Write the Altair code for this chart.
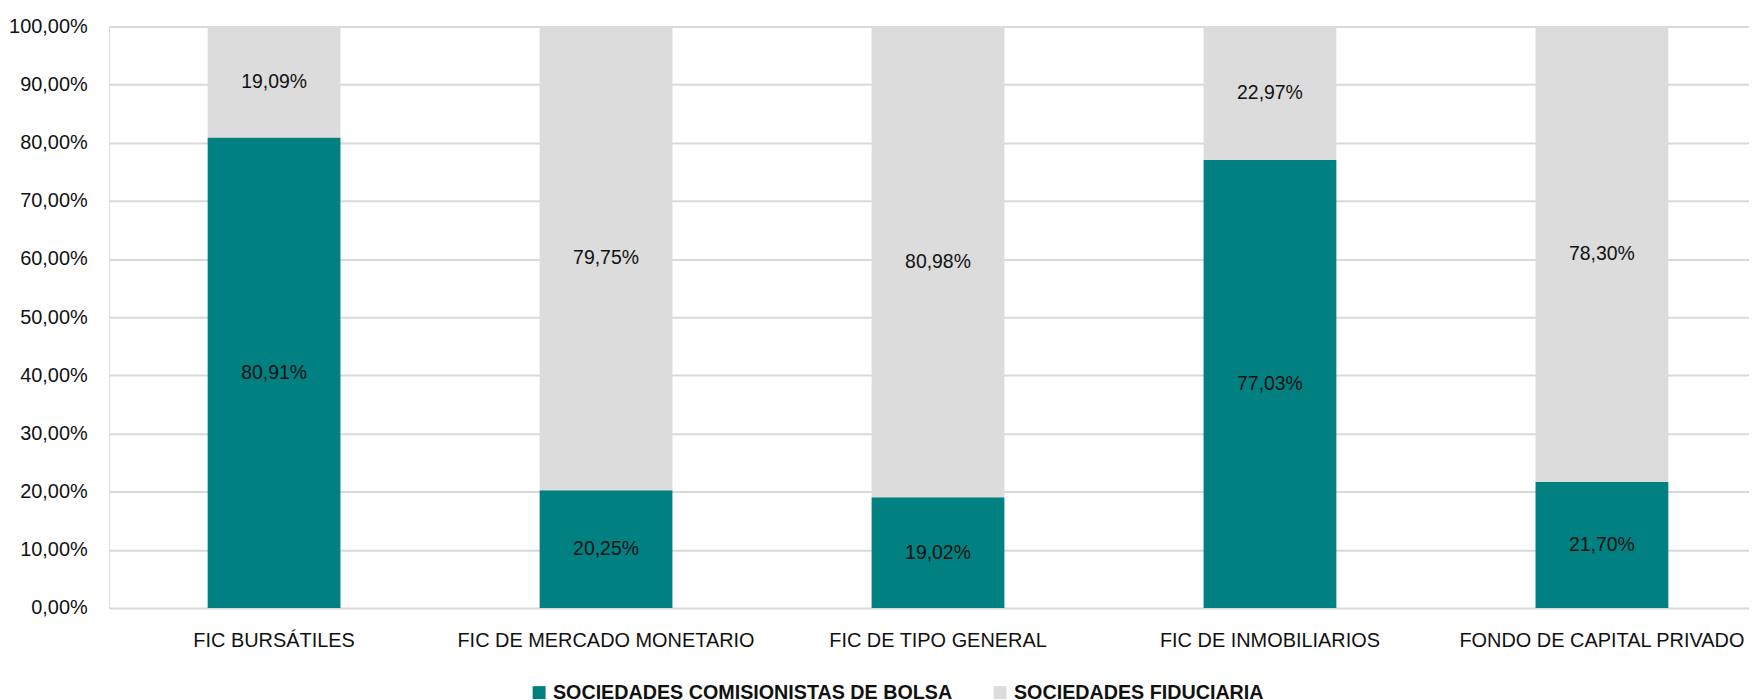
import altair as alt
import pandas as pd

categories = ["FIC BURSÁTILES", "FIC DE MERCADO MONETARIO", "FIC DE TIPO GENERAL",
              "FIC DE INMOBILIARIOS", "FONDO DE CAPITAL PRIVADO"]
series = ["SOCIEDADES COMISIONISTAS DE BOLSA", "SOCIEDADES FIDUCIARIA"]
comisionistas = [80.91, 20.25, 19.02, 77.03, 21.70]
fiduciaria = [19.09, 79.75, 80.98, 22.97, 78.30]
colors = ["#008080", "#dcdcdc"]
y_ticks = [0, 10, 20, 30, 40, 50, 60, 70, 80, 90, 100]

rows = []
for i, cat in enumerate(categories):
    base = 0.0
    for s_idx, vals in enumerate([comisionistas, fiduciaria]):
        v = vals[i]
        rows.append({
            "cat": cat,
            "serie": series[s_idx],
            "order": s_idx,
            "value": v,
            "y0": base,
            "y1": base + v,
            "mid": base + v / 2,
            "label": f"{v:.2f}".replace(".", ",") + "%",
        })
        base += v
df = pd.DataFrame(rows)

FONT = "Liberation Sans, Arial, sans-serif"

x_enc = alt.X("cat:N", sort=categories, title=None,
              scale=alt.Scale(paddingInner=0.6, paddingOuter=0.27, align=0.55),
              axis=alt.Axis(labelAngle=0, labelFontSize=20, labelFont=FONT, labelColor="#111111",
                            labelPadding=22.5, ticks=False, tickSize=0, domain=False,
                            grid=False, labelLimit=400))

bars = alt.Chart(df).mark_bar().encode(
    x=x_enc,
    y=alt.Y("y0:Q", title=None,
            scale=alt.Scale(domain=[0, 100], nice=False),
            axis=alt.Axis(values=y_ticks,
                          labelExpr="replace(format(datum.value, '.2f'), '.', ',') + '%'",
                          labelFontSize=20, labelFont=FONT, labelColor="#111111",
                          labelPadding=22, ticks=False, tickSize=0, domain=False,
                          grid=True, gridColor="#d9d9d9", gridWidth=2)),
    y2="y1:Q",
    color=alt.Color("serie:N", sort=series,
                    scale=alt.Scale(domain=series, range=colors),
                    legend=alt.Legend(title=None, orient="none", direction="horizontal",
                                      legendX=422, legendY=659, padding=0,
                                      symbolType="square", symbolSize=169, symbolStrokeWidth=0,
                                      labelFont=FONT, labelFontSize=19.8, labelFontWeight="bold",
                                      labelColor="#111111", labelOffset=4, columnPadding=38,
                                      labelLimit=600)),
)

texts = alt.Chart(df).mark_text(fontSize=19.5, font=FONT, color="#111111", baseline="middle").encode(
    x=alt.X("cat:N", sort=categories),
    y=alt.Y("mid:Q"),
    text="label:N",
)

chart = alt.layer(bars, texts).properties(
    width=1647, height=584,
    autosize=alt.AutoSizeParams(type="none"),
    padding={"left": 101.5, "top": 17, "right": 0, "bottom": 96},
).configure_view(stroke=None).configure(background="white")

chart.save("out.html", embed_options={"renderer": "svg", "actions": False})
